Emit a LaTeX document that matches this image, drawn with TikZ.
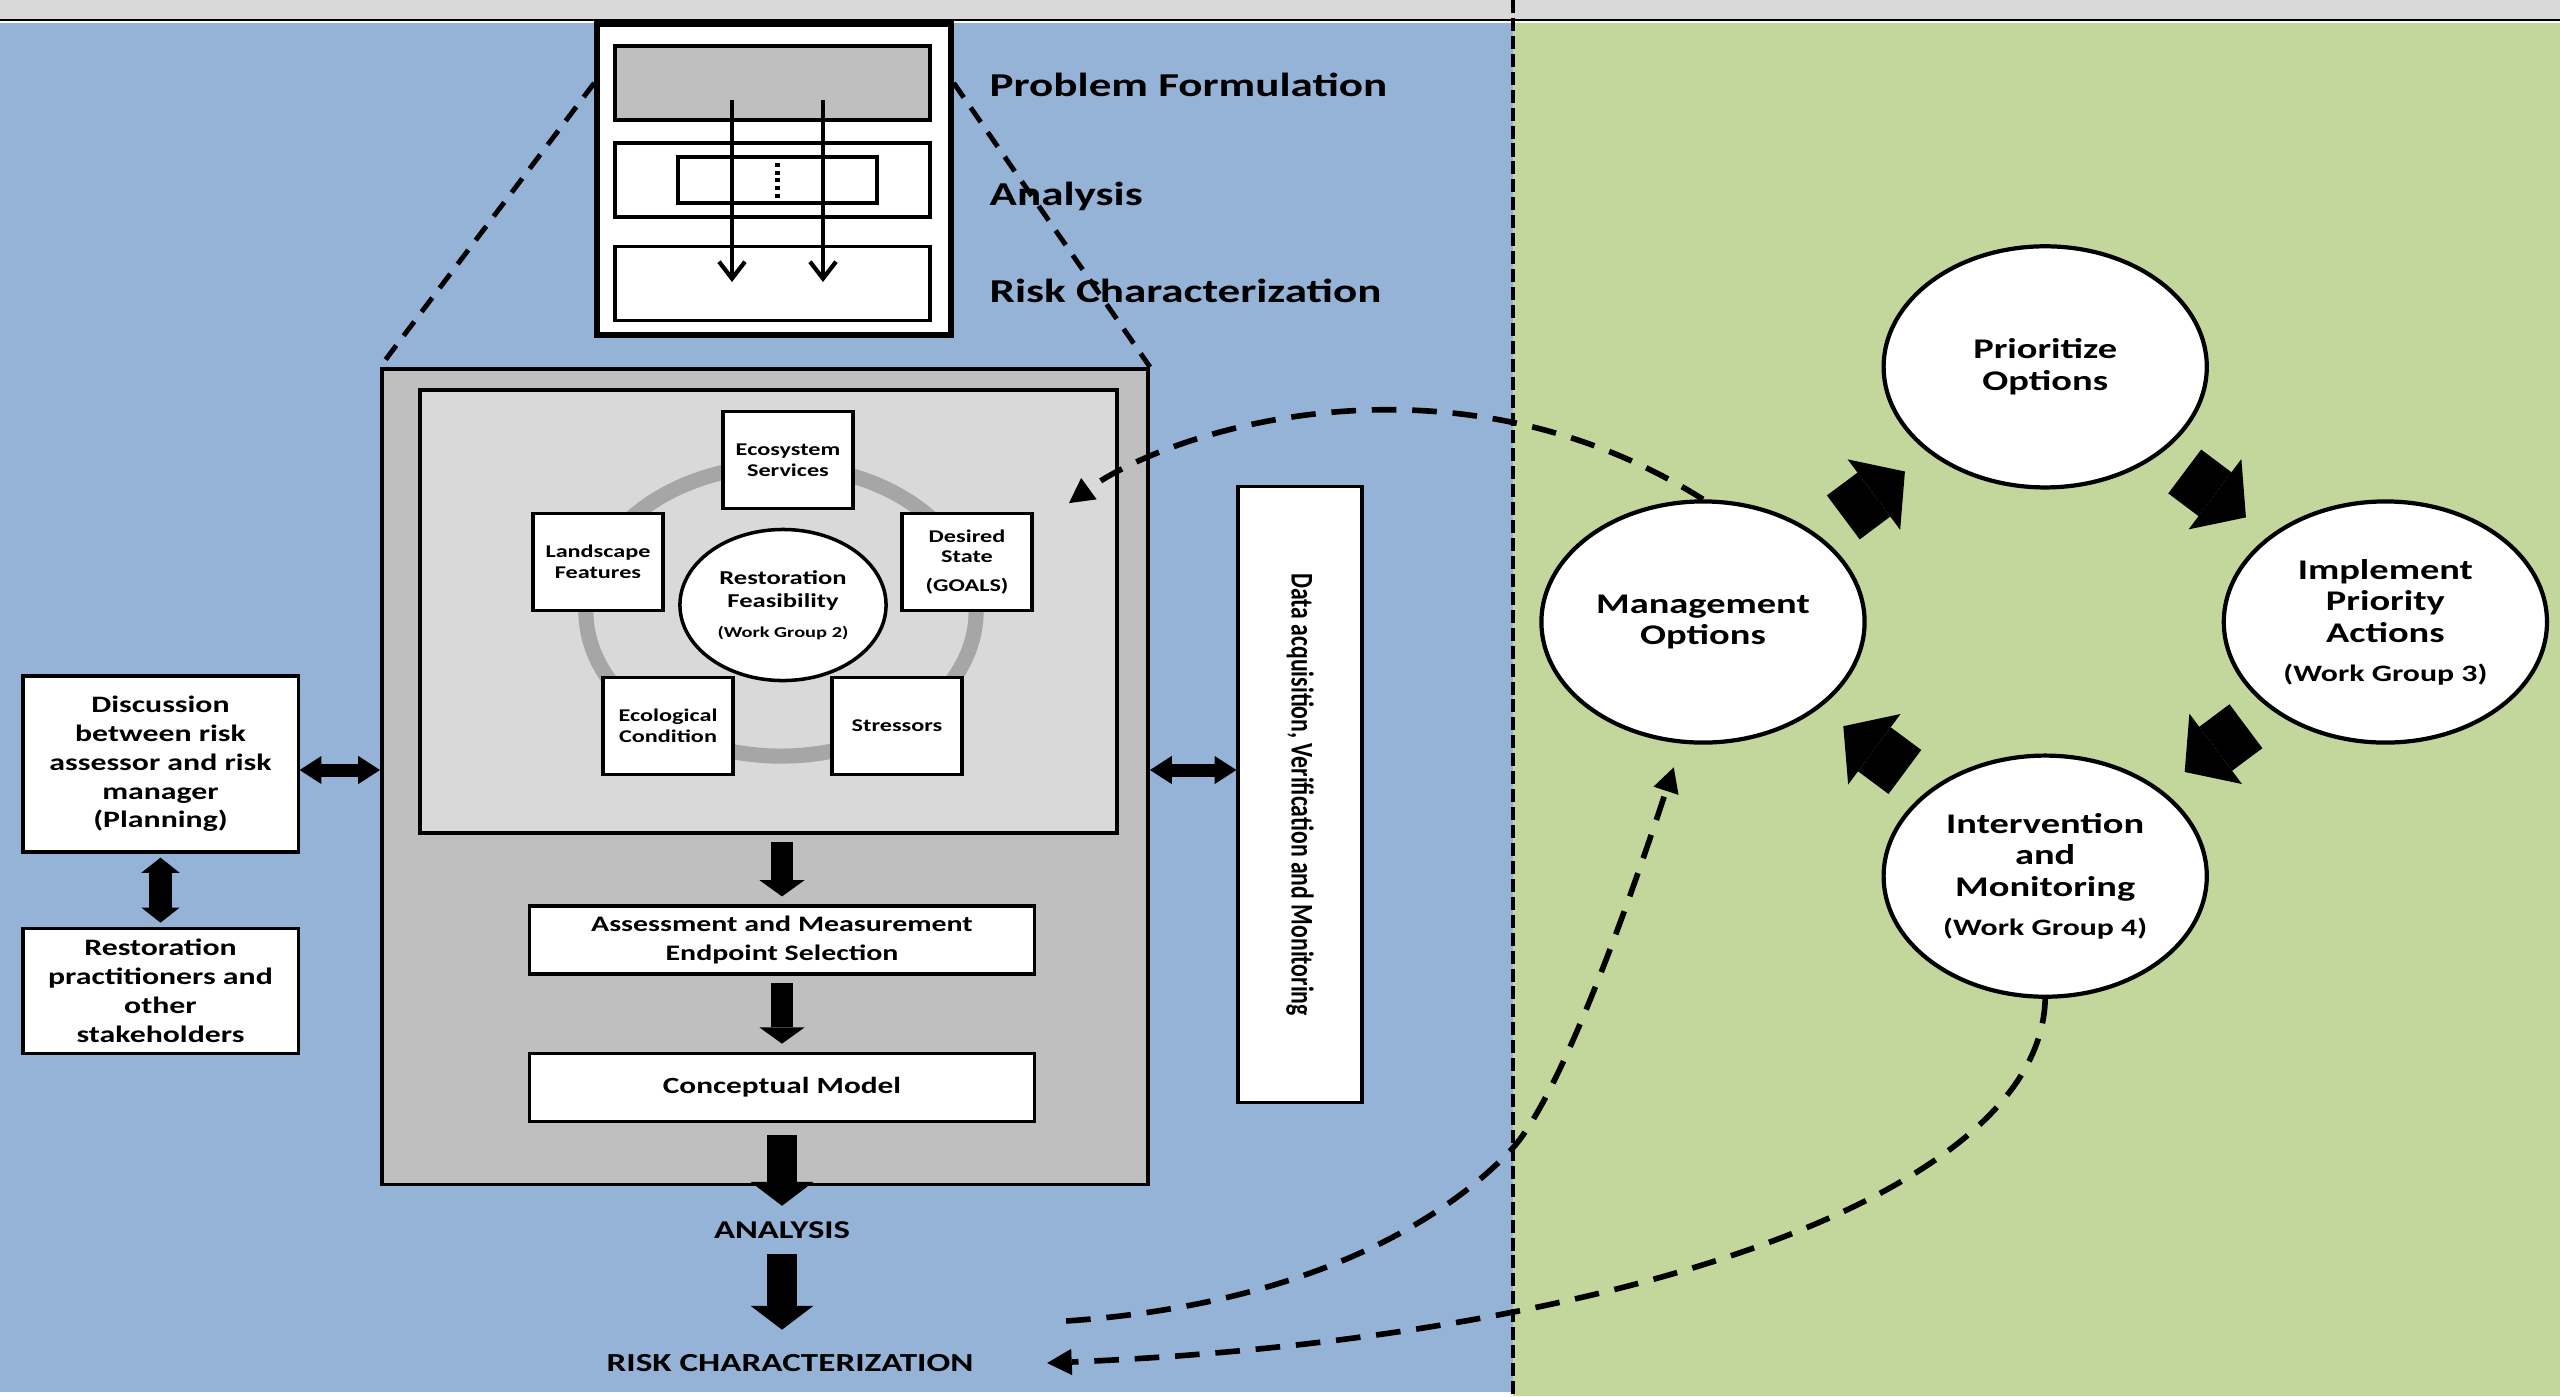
\documentclass[tikz,border=0pt]{standalone}
\usepackage{fontspec}
\setmainfont{Carlito}[FakeStretch=1.35]
\newfontfamily\datafont{Carlito}[FakeStretch=0.75]
\usetikzlibrary{arrows.meta,positioning,shapes.geometric,calc}

\definecolor{riskblue}{HTML}{95B3D7}
\definecolor{mgmtgreen}{HTML}{C3D69B}
\definecolor{boxgray}{HTML}{BFBFBF}
\definecolor{panelgray}{HTML}{D9D9D9}
\definecolor{ringgray}{HTML}{A6A6A6}

\newcommand{\wgroup}[2]{{\fontsize{#1}{#1}\selectfont(Work Group #2)}}

\begin{document}
\begin{tikzpicture}[x=0.01cm, y=-0.01cm,
    wbox/.style={draw, fill=white, line width=0.9pt, inner sep=0pt, align=center},
    factor/.style={wbox, minimum width=1.30cm, minimum height=0.97cm,
      font=\fontsize{5.1}{5.9}\selectfont\bfseries},
    flowbox/.style={wbox, minimum width=5.04cm, minimum height=0.68cm},
    sidebox/.style={wbox, minimum width=2.75cm, font=\fontsize{6.7}{8.2}\selectfont\bfseries},
    phase/.style={draw, line width=1.1pt, minimum width=3.15cm, minimum height=0.74cm},
    steplabel/.style={inner sep=0pt, anchor=west, font=\fontsize{9.5}{11}\selectfont\bfseries},
    caplabel/.style={inner sep=0pt, font=\fontsize{7.4}{9}\selectfont\bfseries},
    cyclenode/.style={ellipse, draw, fill=white, line width=1.2pt, inner sep=0pt,
      minimum width=3.23cm, minimum height=2.41cm, align=center, on grid,
      font=\fontsize{8.1}{9}\selectfont\bfseries},
    pictoarrow/.style={line width=1.2pt, -{Straight Barb[length=4.8pt,width=7.4pt]}},
    fatarrow/.style={line width=6.3pt, shorten <=0.07cm, shorten >=0.08cm,
      -{Triangle[length=4.6pt,width=12.8pt,line width=0pt]}},
    bigarrow/.style={line width=8.8pt,
      -{Triangle[length=6.8pt,width=17.9pt,line width=0pt]}},
    dblarrow/.style={line width=3.7pt,
      {Triangle[length=6.2pt,width=8pt,line width=0pt]}-{Triangle[length=6.2pt,width=8pt,line width=0pt]}},
    vdblarrow/.style={line width=6.5pt, shorten <=0.04cm, shorten >=0.04cm,
      {Triangle[length=4.3pt,width=10.9pt,line width=0pt]}-{Triangle[length=4.3pt,width=10.9pt,line width=0pt]}},
    cyclearrow/.style={line width=15.6pt, -{Triangle[length=11pt,width=25pt,line width=0pt]}},
    feedback/.style={line width=1.6pt, dash pattern=on 7pt off 4.5pt,
      -{Triangle[length=7pt,width=7.5pt,line width=0pt]}},
    zoomline/.style={line width=1.4pt, dash pattern=on 5pt off 3.5pt},
    divider/.style={line width=1.1pt, dash pattern=on 3.7pt off 1.4pt}]

  \useasboundingbox (0,0) rectangle (2560,1396);

  % background panels
  \fill[white] (0,0) rectangle (2560,1396);
  \fill[riskblue] (0,23) rectangle (1513,1392);
  \fill[mgmtgreen] (1513,23) rectangle (2560,1396);
  \fill[panelgray] (0,0) rectangle (2560,19);
  \draw[line width=0.7pt] (0,20) -- (2560,20);
  \draw[divider] (1513,0) -- (1513,1396);

  % risk assessment phases
  \node[draw, fill=white, line width=1.5pt, minimum width=3.54cm, minimum height=3.11cm] (ppbox) at (774,179.5) {};
  \node[phase, fill=boxgray] (pfrect) at (772.5,83) {};
  \node[phase] (anrect) at (772.5,180) {};
  \node[phase] (rcrect) at (772.5,283.5) {};
  \node[draw, line width=1.1pt, minimum width=1.99cm, minimum height=0.46cm] (anbox) at (777.5,180) {};
  \draw[line width=1.2pt, densely dotted] (anbox.north) -- (anbox.south);
  \foreach \x in {732,823}
    \draw[pictoarrow] (\x,100) -- (\x,282);

  \node[steplabel] (pflabel) at (989,85) {Problem Formulation};
  \node[steplabel] (anlabel) at (989,196) {Analysis};
  \node[steplabel] (rclabel) at (989,291) {Risk Characterization};

  % problem formulation detail
  \node[draw, fill=boxgray, line width=1pt, minimum width=7.66cm, minimum height=8.15cm] (gbox) at (765,776.5) {};
  \node[draw, fill=panelgray, line width=1pt, minimum width=6.97cm, minimum height=4.43cm] (cbox) at (768.5,611.5) {};
  \draw[zoomline] (ppbox.west |- pfrect.center) -- (gbox.north west);
  \draw[zoomline] (ppbox.east |- pfrect.center) -- (gbox.north east);

  \draw[ringgray, line width=4.3pt] (781,611) ellipse [x radius=1.95cm, y radius=1.45cm];
  \node[factor] (ecoserv) at (788,460) {Ecosystem\\Services};
  \node[factor] (landscape) at (598,562) {Landscape\\Features};
  \node[factor] (desired) at (967,562) {Desired\\State\\[2.3pt](GOALS)};
  \node[factor] (ecocond) at (668,726) {Ecological\\Condition};
  \node[factor] (stressors) at (897,726) {Stressors};
  \node[ellipse, draw, fill=white, line width=1pt, inner sep=0pt, minimum width=2.06cm,
    minimum height=1.51cm, align=center, font=\fontsize{5.6}{6.5}\selectfont\bfseries]
    (feas) at (783,605) {Restoration\\Feasibility\\[2pt]\wgroup{4.3}{2}};

  \node[flowbox, font=\fontsize{6.3}{8.1}\selectfont\bfseries] (assess) at (782,940)
    {Assessment and Measurement\\Endpoint Selection};
  \node[flowbox, font=\fontsize{6.6}{8}\selectfont\bfseries, below=0.76cm of assess] (concept) {Conceptual Model};
  \node[caplabel, font=\fontsize{7.3}{9}\selectfont\bfseries] (analysis) at (782,1230) {ANALYSIS};
  \node[caplabel] (risk) at (790,1363) {RISK CHARACTERIZATION};

  \draw[fatarrow] (assess |- cbox.south) -- (assess.north);
  \draw[fatarrow] (assess) -- (concept);
  \draw[bigarrow, shorten <=0.12cm, shorten >=0.15cm] (concept) -- (analysis);
  \draw[bigarrow, shorten <=0.15cm, shorten >=0.24cm] (analysis) -- (analysis |- risk.north);

  % planning boxes
  \node[sidebox, minimum height=1.76cm] (disc) at (160.5,764)
    {Discussion\\between risk\\assessor and risk\\manager\\(Planning)};
  \node[sidebox, minimum height=1.25cm, below=0.73cm of disc] (stake)
    {Restoration\\practitioners and\\other\\stakeholders};
  \draw[vdblarrow] (disc) -- (stake);

  \node[wbox, minimum width=6.15cm, minimum height=1.24cm, rotate=-90,
    font=\datafont\fontsize{9}{10}\selectfont\bfseries] (databox) at (1300,794.5)
    {Data acquisition, Verification and Monitoring};
  \draw[dblarrow] (disc.east |- 0,770) -- (gbox.west |- 0,770);
  \draw[dblarrow] (gbox.east |- 0,770) -- (databox.south |- 0,770);

  % management cycle
  \node[cyclenode] (mgmt) at (1703,622) {Management\\Options};
  \node[cyclenode, above right=2.55cm and 3.42cm of mgmt] (prior) {Prioritize\\Options};
  \node[cyclenode, below right=2.55cm and 3.40cm of prior] (impl)
    {Implement\\Priority\\Actions\\[2pt]\wgroup{6.7}{3}};
  \node[cyclenode, below left=2.54cm and 3.40cm of impl] (interv)
    {Intervention\\and\\Monitoring\\[2pt]\wgroup{6.7}{4}};
  \foreach \from/\to in {mgmt/prior, prior/impl, impl/interv, interv/mgmt}
    \draw[cyclearrow] ($(\from)!0.41!(\to)$) -- ($(\from)!0.59!(\to)$);

  % feedback loops
  \draw[feedback] (mgmt.north) .. controls (1450,340) and (1170,430) .. ($(cbox.north east)+(-50,115)$);
  \draw[feedback, shorten >=0.25cm] ($(risk.east)+(92,-42)$) .. controls (1300,1305) and (1440,1225) .. (1511,1150)
    .. controls (1560,1098) and (1630,900) .. (mgmt.260);
  \draw[feedback] (interv.south) .. controls (2040,1200) and (1600,1340) .. ($(risk.east)+(73,0)$);
\end{tikzpicture}
\end{document}
